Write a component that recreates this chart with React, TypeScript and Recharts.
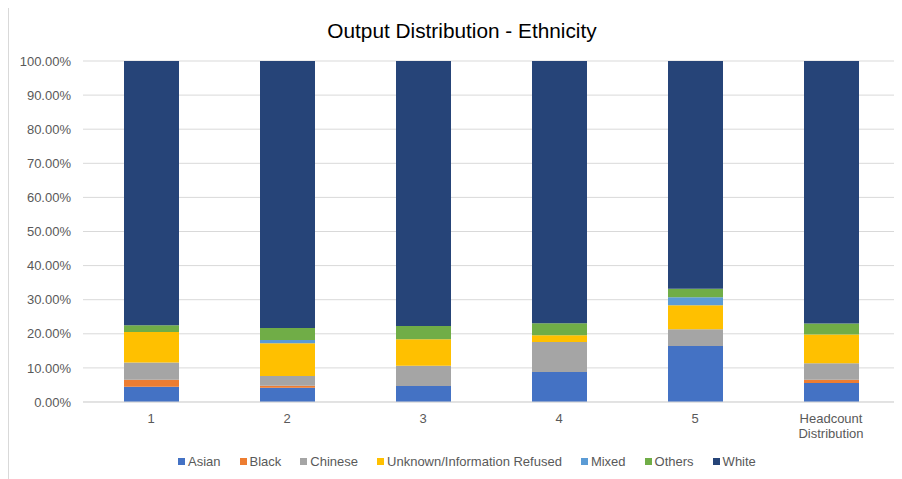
import React from "react";
import { BarChart, Bar, XAxis, YAxis, CartesianGrid } from "recharts";

const categories = ["1", "2", "3", "4", "5", "Headcount Distribution"];
const asian = [4.5, 4.2, 4.7, 8.8, 16.4, 5.6];
const black = [2.0, 0.6, 0, 0, 0, 0.9];
const chinese = [5.1, 2.8, 5.9, 8.8, 4.9, 4.9];
const unknown = [8.9, 9.6, 7.8, 2.0, 7.1, 8.4];
const mixed = [0, 1.0, 0, 0, 2.3, 0];
const others = [2.0, 3.5, 3.9, 3.5, 2.5, 3.2];
const white = [77.5, 78.3, 77.7, 76.9, 66.8, 77.0];
const yTicks = [0, 10, 20, 30, 40, 50, 60, 70, 80, 90, 100];

const seriesNames = ["Asian", "Black", "Chinese", "Unknown/Information Refused", "Mixed", "Others", "White"];
const seriesValues = [asian, black, chinese, unknown, mixed, others, white];
const seriesColors = ["#4472C4", "#ED7D31", "#A5A5A5", "#FFC000", "#5B9BD5", "#70AD47", "#264478"];

const data = categories.map((c, i) => {
  const row: Record<string, any> = { name: c };
  seriesNames.forEach((s, j) => {
    row[s] = seriesValues[j][i];
  });
  return row;
});

const FONT = '"Liberation Sans", Arial, sans-serif';

const XTick = (props: any) => {
  const { x, y, payload } = props;
  const words = String(payload.value).split(" ");
  return (
    <text x={x} y={y} textAnchor="middle" fill="#595959" fontSize={13} fontFamily={FONT}>
      {words.map((w: string, i: number) => (
        <tspan key={i} x={x} dy={i === 0 ? 20.5 : 15}>
          {w}
        </tspan>
      ))}
    </text>
  );
};

export default function App() {
  return (
    <div style={{ position: "relative", width: 894, height: 471, fontFamily: FONT }}>
      <div style={{ position: "absolute", left: 0, top: -2, width: 894, height: 1, background: "#d9d9d9" }} />
      <div style={{ position: "absolute", left: 0, top: -2, width: 1, height: 473, background: "#d9d9d9" }} />
      <div
        style={{
          position: "absolute",
          left: 454,
          top: 11,
          transform: "translateX(-50%)",
          whiteSpace: "nowrap",
          fontSize: 20.8,
          lineHeight: "24px",
          color: "#000000",
        }}
      >
        Output Distribution - Ethnicity
      </div>
      <BarChart
        width={894}
        height={471}
        data={data}
        margin={{ top: 53, right: 3, bottom: 0, left: 0 }}
        barSize={55}
      >
        <CartesianGrid vertical={false} stroke="#d9d9d9" strokeWidth={1} />
        <XAxis
          dataKey="name"
          height={77}
          tickLine={false}
          tickSize={0}
          tickMargin={0}
          axisLine={{ stroke: "#d9d9d9" }}
          tick={<XTick />}
          interval={0}
        />
        <YAxis
          width={75}
          domain={[0, 100]}
          ticks={yTicks}
          axisLine={false}
          tickLine={false}
          tickSize={0}
          tickMargin={12}
          tickFormatter={(v: number) => `${v.toFixed(2)}%`}
          tick={{ fill: "#595959", fontSize: 13, fontFamily: FONT }}
        />
        {seriesNames.map((s, j) => (
          <Bar key={s} dataKey={s} stackId="a" fill={seriesColors[j]} isAnimationActive={false} />
        ))}
      </BarChart>
      <div
        style={{
          position: "absolute",
          left: 170,
          top: 446,
          display: "flex",
          alignItems: "center",
          fontSize: 13,
          color: "#595959",
          whiteSpace: "nowrap",
        }}
      >
        {seriesNames.map((s, j) => (
          <div key={s} style={{ display: "flex", alignItems: "center", marginRight: 19 }}>
            <span style={{ display: "inline-block", width: 7, height: 7, background: seriesColors[j], marginRight: 3 }} />
            <span>{s}</span>
          </div>
        ))}
      </div>
    </div>
  );
}
